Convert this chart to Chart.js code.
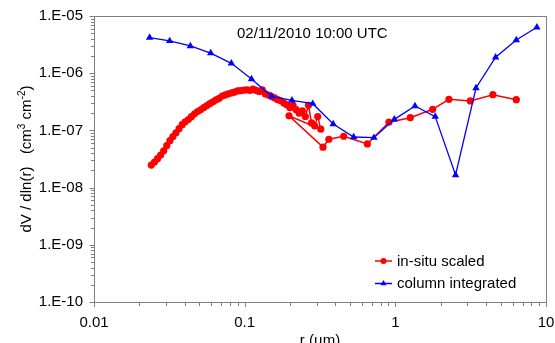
<!DOCTYPE html>
<html>
<head>
<meta charset="utf-8">
<script src="https://cdn.jsdelivr.net/npm/chart.js@4.4.1/dist/chart.umd.min.js"></script>
<style>
  html, body { margin: 0; padding: 0; background: #fff; }
  #wrap { width: 555px; height: 343px; }
</style>
</head>
<body>
<div id="wrap"><canvas id="sizeDist" width="555" height="343"></canvas></div>
<script>
// in-situ scaled (SMPS part then OPC part, in the order they were plotted)
const insituX = [
  0.0240, 0.0252, 0.0264, 0.0277, 0.0290, 0.0304, 0.0319, 0.0334, 0.0350, 0.0367,
  0.0385, 0.0403, 0.0423, 0.0443, 0.0465, 0.0487, 0.0510, 0.0535, 0.0561, 0.0588,
  0.0616, 0.0646, 0.0677, 0.0710, 0.0744, 0.0780, 0.0817, 0.0857, 0.0898, 0.0941,
  0.0987, 0.1034, 0.1084, 0.1136, 0.1191, 0.1249, 0.1309, 0.1372, 0.1438, 0.1507,
  0.1580, 0.1656, 0.1736, 0.1819, 0.1907, 0.1999, 0.2095, 0.2196, 0.2302, 0.2413,
  0.2529, 0.2651, 0.2779, 0.2913, 0.3053, 0.3200,
  0.197, 0.331, 0.362, 0.454, 0.652, 0.907, 1.257, 1.768, 2.268, 3.146, 4.44, 6.35
];
const insituY = [
  2.48e-8, 2.8e-8, 3.2e-8, 3.7e-8, 4.4e-8, 5.4e-8, 6.6e-8, 7.8e-8, 9.1e-8, 1.07e-7,
  1.26e-7, 1.41e-7, 1.55e-7, 1.74e-7, 1.95e-7, 2.14e-7, 2.29e-7, 2.51e-7, 2.72e-7, 2.95e-7,
  3.16e-7, 3.43e-7, 3.63e-7, 3.98e-7, 4.17e-7, 4.37e-7, 4.52e-7, 4.68e-7, 4.9e-7, 4.95e-7,
  5.07e-7, 5.13e-7, 5.0e-7, 5.25e-7, 5.0e-7, 4.8e-7, 5.1e-7, 4.35e-7, 4.15e-7, 3.9e-7,
  3.7e-7, 3.45e-7, 3.3e-7, 3.0e-7, 2.8e-7, 2.5e-7, 2.75e-7, 2.3e-7, 2.0e-7, 2.2e-7,
  1.75e-7, 2.75e-7, 1.35e-7, 1.2e-7, 1.75e-7, 1.05e-7,
  1.8e-7, 5.1e-8, 7.0e-8, 7.9e-8, 5.8e-8, 1.39e-7, 1.67e-7, 2.34e-7, 3.5e-7, 3.27e-7, 4.21e-7, 3.44e-7
];

// column integrated
const columnX = [0.0234, 0.0318, 0.0436, 0.0595, 0.0816, 0.111, 0.151, 0.206, 0.283, 0.387,
  0.529, 0.721, 0.985, 1.35, 1.84, 2.51, 3.43, 4.63, 6.35, 8.70];
const columnY = [4.18e-6, 3.66e-6, 2.99e-6, 2.25e-6, 1.49e-6, 7.92e-7, 3.95e-7, 3.36e-7, 2.93e-7, 1.29e-7,
  7.67e-8, 7.45e-8, 1.56e-7, 2.67e-7, 1.74e-7, 1.66e-8, 5.51e-7, 1.90e-6, 3.80e-6, 6.34e-6];

const xTickLabels = ["0.01", "0.1", "1", "10"];
const yTickLabels = ["1.E-10", "1.E-09", "1.E-08", "1.E-07", "1.E-06", "1.E-05"];
const seriesNames = ["in-situ scaled", "column integrated"];
const chartTitle = "02/11/2010 10:00 UTC";

const FONT = "'Liberation Sans', Arial, sans-serif";
const AXIS_GREY = "#808080";
Chart.defaults.font.family = FONT;
Chart.defaults.font.size = 15;
Chart.defaults.color = "#000";

function isDecade(v) {
  const e = Math.log10(v);
  return Math.abs(e - Math.round(e)) < 1e-6;
}

// major + minor tick marks, drawn outside the plot frame
function logTickValues(scale) {
  const out = [];
  const lo = Math.round(Math.log10(scale.min));
  const hi = Math.round(Math.log10(scale.max));
  for (let e = lo; e <= hi; e++) {
    for (let m = 1; m <= 9; m++) {
      const v = m * Math.pow(10, e);
      if (v >= scale.min * 0.999 && v <= scale.max * 1.001) out.push({ v, major: m === 1 });
    }
  }
  return out;
}

const decorPlugin = {
  id: "decor",
  afterDraw(chart) {
    const { ctx, chartArea: a } = chart;
    const xs = chart.scales.x, ys = chart.scales.y;
    ctx.save();
    ctx.strokeStyle = AXIS_GREY;
    ctx.lineWidth = 1;
    ctx.strokeRect(Math.round(a.left) + 0.5, Math.round(a.top) + 0.5,
      Math.round(a.right - a.left), Math.round(a.bottom - a.top));

    ctx.beginPath();
    logTickValues(xs).forEach((t) => {
      const px = Math.round(xs.getPixelForValue(t.v)) + 0.5;
      ctx.moveTo(px, Math.round(a.bottom));
      ctx.lineTo(px, Math.round(a.bottom) + (t.major ? 5 : 4));
    });
    logTickValues(ys).forEach((t) => {
      const py = Math.round(ys.getPixelForValue(t.v)) + 0.5;
      ctx.moveTo(Math.round(a.left) + 0.5, py);
      ctx.lineTo(Math.round(a.left) + 0.5 - (t.major ? 5 : 3.5), py);
    });
    ctx.stroke();

    ctx.fillStyle = "#000";
    ctx.font = "15px " + FONT;
    ctx.textBaseline = "alphabetic";
    ctx.textAlign = "left";
    ctx.fillText(chartTitle, a.left + 143, 37.5);

    // legend inside plot
    const ds = chart.data.datasets;
    [0, 1].forEach((i) => {
      const y = 261 + i * 22.5;
      const x0 = a.right - 171, x1 = a.right - 154;
      ctx.strokeStyle = ds[i].borderColor;
      ctx.lineWidth = 1.5;
      ctx.beginPath();
      ctx.moveTo(x0, y);
      ctx.lineTo(x1, y);
      ctx.stroke();
      ctx.fillStyle = ds[i].pointBackgroundColor;
      Chart.helpers.drawPoint(ctx, {
        pointStyle: ds[i].pointStyle, radius: i === 0 ? 3 : 3.5, rotation: 0, borderWidth: 0
      }, (x0 + x1) / 2, y);
      ctx.fillStyle = "#000";
      ctx.fillText(seriesNames[i], a.right - 149, y + 4.8);
    });

    // x title
    ctx.textAlign = "center";
    ctx.fillText("r (\u00b5m)", (a.left + a.right) / 2, 344.5);

    // y title with superscripts
    const parts = [
      ["dV / dln(r)   (cm", false], ["3", true], [" cm", false], ["-2", true], [")", false]
    ];
    const widthOf = (p) => {
      ctx.font = (p[1] ? "10px " : "15px ") + FONT;
      return ctx.measureText(p[0]).width;
    };
    const total = parts.reduce((s, p) => s + widthOf(p), 0);
    ctx.translate(31, (a.top + a.bottom) / 2);
    ctx.rotate(-Math.PI / 2);
    ctx.textAlign = "left";
    let x = -total / 2;
    parts.forEach((p) => {
      const w = widthOf(p);
      ctx.fillText(p[0], x, p[1] ? -6 : 0);
      x += w;
    });
    ctx.restore();
  }
};

const hiddenGrid = { display: true, drawOnChartArea: false, drawTicks: true, tickLength: 5, color: "rgba(0,0,0,0)" };

new Chart(document.getElementById("sizeDist"), {
  type: "scatter",
  data: {
    datasets: [
      {
        label: seriesNames[0],
        data: insituX.map((x, i) => ({ x, y: insituY[i] })),
        showLine: true,
        borderColor: "#ff0000",
        backgroundColor: "#ff0000",
        pointBackgroundColor: "#ff0000",
        pointBorderWidth: 0,
        borderWidth: 1.5,
        pointStyle: "circle",
        pointRadius: 3.6,
        order: 1
      },
      {
        label: seriesNames[1],
        data: columnX.map((x, i) => ({ x, y: columnY[i] })),
        showLine: true,
        borderColor: "#0000ff",
        backgroundColor: "#0000ff",
        pointBackgroundColor: "#0000ff",
        pointBorderWidth: 0,
        borderWidth: 1.3,
        pointStyle: "triangle",
        pointRadius: 4.3,
        order: 0
      }
    ]
  },
  options: {
    responsive: false,
    animation: false,
    events: [],
    layout: { padding: { top: 16, right: 9, left: 0, bottom: 0 } },
    plugins: {
      legend: { display: false },
      tooltip: { enabled: false }
    },
    scales: {
      x: {
        type: "logarithmic",
        min: 0.01,
        max: 10,
        afterFit: (s) => { s.height = 41; s.paddingLeft = 0; s.paddingRight = 0; },
        border: { display: false },
        grid: hiddenGrid,
        ticks: {
          autoSkip: false,
          maxRotation: 0,
          padding: 7,
          callback: (v) => {
            if (!isDecade(v)) return "";
            return xTickLabels[Math.round(Math.log10(v)) + 2];
          }
        }
      },
      y: {
        type: "logarithmic",
        min: 1e-10,
        max: 1e-5,
        afterFit: (s) => { s.width = 94; s.paddingTop = 0; s.paddingBottom = 0; },
        border: { display: false },
        grid: hiddenGrid,
        ticks: {
          autoSkip: false,
          padding: 6,
          callback: (v) => {
            if (!isDecade(v)) return "";
            return yTickLabels[Math.round(Math.log10(v)) + 10];
          }
        }
      }
    }
  },
  plugins: [decorPlugin]
});
</script>
</body>
</html>
